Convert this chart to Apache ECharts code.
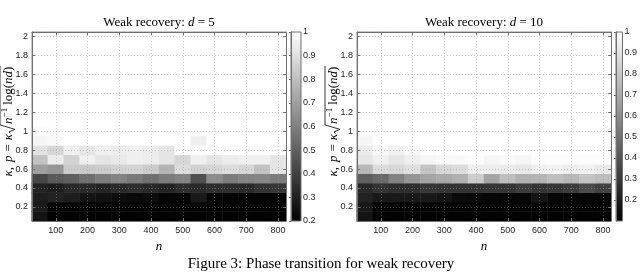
<!DOCTYPE html>
<html><head><meta charset="utf-8">
<script src="https://cdn.jsdelivr.net/npm/echarts@6/dist/echarts.min.js"></script>
<style>html,body{margin:0;padding:0;background:#fff}#c{width:640px;height:275px}</style>
</head><body><div id="c"></div>
<script>
// ---- data ----
const nCategories = [50,100,150,200,250,300,350,400,450,500,550,600,650,700,750,800];
const kappaCategories = [0.1,0.2,0.3,0.4,0.5,0.6,0.7,0.8,0.9,1.0,1.1,1.2,1.3,1.4,1.5,1.6,1.7,1.8,1.9,2.0];
const xTickValues = [100,200,300,400,500,600,700,800];
const yTickValues = [0.2,0.4,0.6,0.8,1,1.2,1.4,1.6,1.8,2];
const colorbarTicksD5 = [0.2,0.3,0.4,0.5,0.6,0.7,0.8,0.9,1];
const colorbarTicksD10 = [0.2,0.3,0.4,0.5,0.6,0.7,0.8,0.9,1];
const rangeD5 = [0.2, 1];
const rangeD10 = [0.1, 1];
const titles = ['5', '10'];

// rows: kappa = 0.1 (first) ... 2.0 (last); columns n = 50 ... 800
const weakD5 = [
 [0.26,0.21,0.21,0.21,0.21,0.21,0.21,0.21,0.21,0.21,0.21,0.21,0.21,0.21,0.21,0.21],
 [0.28,0.21,0.21,0.21,0.21,0.21,0.21,0.21,0.21,0.21,0.21,0.21,0.21,0.21,0.21,0.21],
 [0.29,0.31,0.29,0.26,0.25,0.24,0.23,0.24,0.215,0.215,0.28,0.215,0.215,0.215,0.215,0.215],
 [0.31,0.29,0.33,0.33,0.31,0.33,0.34,0.33,0.31,0.34,0.33,0.34,0.34,0.33,0.36,0.37],
 [0.42,0.48,0.50,0.545,0.59,0.61,0.58,0.545,0.59,0.61,0.45,0.64,0.59,0.61,0.62,0.59],
 [0.70,0.67,0.84,0.83,0.84,0.86,0.865,0.84,0.765,0.89,0.86,0.87,0.89,0.87,0.81,0.92],
 [0.81,0.94,0.86,0.95,0.92,0.93,0.95,0.945,0.92,0.87,0.95,0.92,0.94,0.95,0.95,0.92],
 [0.91,0.87,0.95,0.92,0.95,0.94,0.95,0.94,0.92,0.99,0.99,0.99,0.99,0.99,0.99,0.99],
 [0.97,0.98,1,1,1,1,1,1,1,1,0.95,1,1,1,1,1],
 [0.98,0.99,1,1,1,1,1,1,1,1,1,1,1,1,1,1],
 [1,1,1,1,1,1,1,1,1,1,1,1,1,1,1,1],
 [1,1,1,1,1,1,1,1,1,1,1,1,1,1,1,1],
 [1,1,1,1,1,1,1,1,1,1,1,1,1,1,1,1],
 [1,1,1,1,1,1,1,1,1,1,1,1,1,1,1,1],
 [1,1,1,1,1,1,1,1,1,1,1,1,1,1,1,1],
 [1,1,1,1,1,1,1,1,1,1,1,1,1,1,1,1],
 [1,1,1,1,1,1,1,1,1,1,1,1,1,1,1,1],
 [1,1,1,1,1,1,1,1,1,1,1,1,1,1,1,1],
 [1,1,1,1,1,1,1,1,1,1,1,1,1,1,1,1],
 [1,1,1,1,1,1,1,1,1,1,1,1,1,1,1,1]
];
const weakD10 = [
 [0.17,0.11,0.11,0.11,0.11,0.11,0.11,0.11,0.11,0.11,0.11,0.11,0.11,0.11,0.11,0.11],
 [0.19,0.11,0.11,0.11,0.11,0.11,0.11,0.11,0.11,0.11,0.11,0.11,0.11,0.11,0.11,0.11],
 [0.22,0.19,0.19,0.19,0.19,0.17,0.135,0.13,0.12,0.12,0.12,0.17,0.12,0.12,0.12,0.12],
 [0.24,0.28,0.26,0.26,0.29,0.28,0.28,0.28,0.29,0.28,0.31,0.28,0.29,0.31,0.365,0.33],
 [0.435,0.47,0.56,0.63,0.68,0.70,0.72,0.82,0.68,0.77,0.72,0.735,0.77,0.75,0.79,0.77],
 [0.75,0.876,0.86,0.89,0.79,0.86,0.876,0.94,0.94,0.93,0.92,0.947,0.958,0.94,0.955,0.93],
 [0.91,0.947,0.91,0.94,0.965,0.975,0.98,0.99,0.965,0.98,0.965,0.99,0.99,0.99,0.99,0.99],
 [0.93,0.975,0.947,0.975,1,1,1,1,1,1,1,1,1,1,1,1],
 [0.965,1,1,1,1,1,1,1,1,1,1,1,1,1,1,1],
 [1,1,1,1,1,1,1,1,1,1,1,1,1,1,1,1],
 [1,1,1,1,1,1,1,1,1,1,1,1,1,1,1,1],
 [1,1,1,1,1,1,1,1,1,1,1,1,1,1,1,1],
 [1,1,1,1,1,1,1,1,1,1,1,1,1,1,1,1],
 [1,1,1,1,1,1,1,1,1,1,1,1,1,1,1,1],
 [1,1,1,1,1,1,1,1,1,1,1,1,1,1,1,1],
 [1,1,1,1,1,1,1,1,1,1,1,1,1,1,1,1],
 [1,1,1,1,1,1,1,1,1,1,1,1,1,1,1,1],
 [1,1,1,1,1,1,1,1,1,1,1,1,1,1,1,1],
 [1,1,1,1,1,1,1,1,1,1,1,1,1,1,1,1],
 [1,1,1,1,1,1,1,1,1,1,1,1,1,1,1,1]
];

// ---- layout / style ----
const SANS = '"Liberation Sans", Arial, sans-serif';
const SERIF = '"Liberation Serif", "DejaVu Serif", serif';
const BOX = '#707070';
const LBL = '#262626';
const panels = [
  {left: 32, cbLeft: 291, ylabX: 9, data: weakD5, range: rangeD5, cbTicks: colorbarTicksD5, d: titles[0]},
  {left: 357, cbLeft: 616, ylabX: 334, data: weakD10, range: rangeD10, cbTicks: colorbarTicksD10, d: titles[1]}
];
const TOP = 32, W = 254, H = 189, CBW = 10;

function toCells(rows) {
  const out = [];
  rows.forEach((row, yi) => row.forEach((v, xi) => out.push([xi, yi, v])));
  return out;
}

const grids = [], xAxes = [], yAxes = [], series = [], visualMaps = [], graphics = [];
const gridLine = {show: true, lineStyle: {color: 'rgba(150,150,150,0.45)', type: [1, 2], width: 1}};

const mctx = document.createElement('canvas').getContext('2d');
function tw(t, f) { mctx.font = f; return mctx.measureText(t).width; }

function yLabel(cx, cy) {
  const FS = 13;
  const fr = FS + 'px ' + SERIF, fi = 'italic ' + FS + 'px ' + SERIF, fs = '9px ' + SERIF;
  const pieces = [
    {t: 'κ', f: fi}, {t: ',', f: fr}, {gap: 5}, {t: 'p', f: fi}, {gap: 4}, {t: '=', f: fr}, {gap: 4}, {t: 'κ', f: fi},
    {rad: true, w: 10},
    {t: 'n', f: fi, o: 1}, {t: '−1', f: fs, sup: 1, o: 1}, {gap: 3}, {t: 'log(', f: fr, o: 1}, {t: 'nd', f: fi, o: 1}, {t: ')', f: fr, o: 1}
  ];
  let total = 0;
  pieces.forEach(p => { if (p.gap) p.w = p.gap; else if (!p.rad) p.w = tw(p.t, p.f); total += p.w; });
  let x = -total / 2;
  const children = [];
  let radX = 0;
  pieces.forEach(p => {
    if (p.rad) { radX = x; }
    else if (!p.gap) {
      children.push({type: 'text', style: {text: p.t, x: x, y: p.sup ? -4.5 : 0, font: p.f, fill: '#000',
        align: 'left', verticalAlign: 'middle', textAlign: 'left', textVerticalAlign: 'middle'}});
    }
    x += p.w;
  });
  const top = -9;
  children.push({type: 'polyline', shape: {points: [[radX + 0.5, 1], [radX + 2, 0], [radX + 4.5, 6], [radX + 9, top], [x + 0.5, top]]},
    style: {stroke: '#000', lineWidth: 0.8, fill: null}});
  return {type: 'group', x: cx, y: cy, rotation: Math.PI / 2, children};
}

panels.forEach((p, i) => {
  const g = grids.length;
  grids.push({left: p.left, top: TOP, width: W, height: H, show: true, borderColor: BOX, borderWidth: 1, backgroundColor: '#fff'});
  const xc = xAxes.length;
  xAxes.push({gridIndex: g, type: 'category', data: nCategories, show: false});
  xAxes.push({gridIndex: g, type: 'value', min: 25, max: 825, splitNumber: 8, position: 'bottom', z: 5,
    axisLine: {show: true, lineStyle: {color: BOX}},
    axisTick: {show: true, inside: true, length: 3, lineStyle: {color: BOX}, customValues: xTickValues},
    axisLabel: {color: LBL, fontFamily: SANS, fontSize: 9, margin: 5, customValues: xTickValues},
    splitLine: gridLine,
    name: 'n', nameLocation: 'middle', nameGap: 18,
    nameTextStyle: {fontFamily: SERIF, fontStyle: 'italic', fontSize: 13, color: '#000'}});
  xAxes.push({gridIndex: g, type: 'value', min: 25, max: 825, splitNumber: 8, position: 'top', z: 5,
    axisLine: {show: true, lineStyle: {color: BOX}},
    axisTick: {show: true, inside: true, length: 3, lineStyle: {color: BOX}, customValues: xTickValues},
    axisLabel: {show: false}, splitLine: {show: false}});
  const yc = yAxes.length;
  yAxes.push({gridIndex: g, type: 'category', data: kappaCategories, show: false});
  yAxes.push({gridIndex: g, type: 'value', min: 0.05, max: 2.05, splitNumber: 10, position: 'left', z: 5,
    axisLine: {show: true, lineStyle: {color: BOX}},
    axisTick: {show: true, inside: true, length: 3, lineStyle: {color: BOX}, customValues: yTickValues},
    axisLabel: {color: LBL, fontFamily: SANS, fontSize: 9, margin: 4, customValues: yTickValues},
    splitLine: gridLine});
  yAxes.push({gridIndex: g, type: 'value', min: 0.05, max: 2.05, splitNumber: 10, position: 'right', z: 5,
    axisLine: {show: true, lineStyle: {color: BOX}},
    axisTick: {show: true, inside: true, length: 3, lineStyle: {color: BOX}, customValues: yTickValues},
    axisLabel: {show: false}, splitLine: {show: false}});
  const si = series.length;
  series.push({type: 'heatmap', xAxisIndex: xc, yAxisIndex: yc, data: toCells(p.data),
    itemStyle: {borderWidth: 0}, emphasis: {disabled: true}, progressive: 0});
  visualMaps.push({type: 'continuous', seriesIndex: si, min: p.range[0], max: p.range[1], show: false,
    inRange: {color: ['#000000', '#ffffff']}});

  // colorbar
  const cg = grids.length;
  grids.push({left: p.cbLeft, top: TOP, width: CBW, height: H, show: true, borderColor: BOX, borderWidth: 1,
    backgroundColor: new echarts.graphic.LinearGradient(0, 0, 0, 1, [{offset: 0, color: '#ffffff'}, {offset: 1, color: '#000000'}])});
  xAxes.push({gridIndex: cg, type: 'value', min: 0, max: 1, show: false});
  yAxes.push({gridIndex: cg, type: 'value', min: p.range[0], max: p.range[1], position: 'right', z: 5,
    axisLine: {show: true, lineStyle: {color: BOX}},
    axisTick: {show: true, inside: true, length: 2, lineStyle: {color: BOX}, customValues: p.cbTicks},
    axisLabel: {color: LBL, fontFamily: SANS, fontSize: 9, margin: 2, customValues: p.cbTicks},
    splitLine: {show: false}});

  graphics.push({type: 'text', style: {
    text: '{r|Weak recovery: }{i|d}{r| = ' + p.d + '}',
    x: p.left + W / 2, y: 23, align: 'center', verticalAlign: 'middle', textAlign: 'center', textVerticalAlign: 'middle',
    rich: {r: {fontFamily: SERIF, fontSize: 13, color: '#000'}, i: {fontFamily: SERIF, fontStyle: 'italic', fontSize: 13, color: '#000'}}
  }});
  graphics.push(yLabel(p.ylabX, TOP + H / 2 - 5));
});

graphics.push({type: 'text', style: {text: 'Figure 3: Phase transition for weak recovery', x: 321, y: 264,
  font: '15px ' + SERIF, fill: '#000', align: 'center', verticalAlign: 'middle', textAlign: 'center', textVerticalAlign: 'middle'}});

const chart = echarts.init(document.getElementById('c'), null, {renderer: 'canvas'});
chart.setOption({
  animation: false,
  backgroundColor: '#ffffff',
  grid: grids, xAxis: xAxes, yAxis: yAxes, series, visualMap: visualMaps, graphic: graphics
});
</script></body></html>
